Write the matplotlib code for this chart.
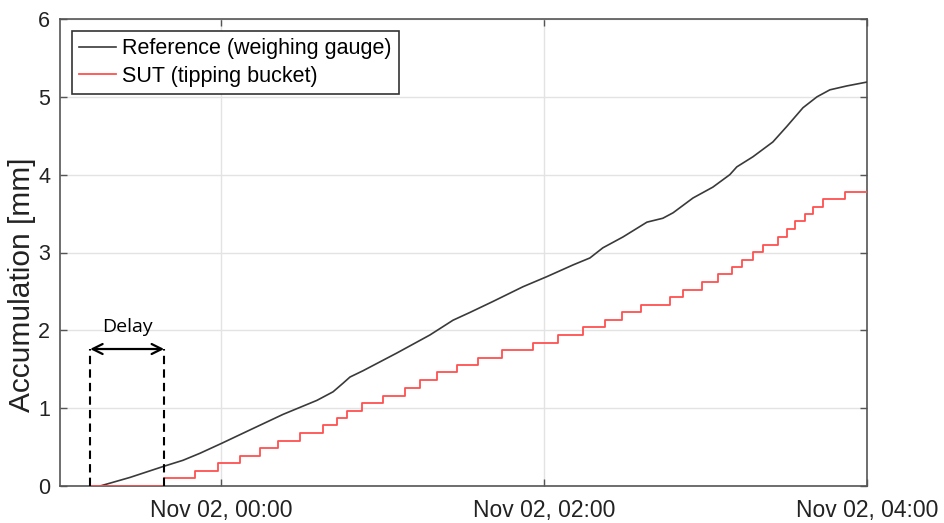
import matplotlib
matplotlib.use("Agg")
import matplotlib.pyplot as plt
import matplotlib.dates as mdates
from datetime import datetime, timedelta

# ---- data (minutes after Nov 01, 23:00) ----
ref_minutes = [14.9, 26.0, 38.3, 45.7, 52.0, 60.2, 70.6, 82.9, 95.5, 101.5, 105.2,
               107.8, 112.6, 125.3, 137.5, 146.1, 152.4, 160.9, 172.1, 181.0, 190.7,
               197.0, 201.8, 209.3, 218.2, 224.1, 227.9, 235.3, 242.7, 249.0, 251.6,
               257.6, 265.0, 270.2, 276.2, 281.4, 286.2, 292.5, 300.0]
ref_values = [0.0, 0.11, 0.25, 0.33, 0.42, 0.55, 0.72, 0.92, 1.10, 1.21, 1.32,
              1.40, 1.48, 1.71, 1.94, 2.13, 2.23, 2.37, 2.56, 2.69, 2.84,
              2.93, 3.06, 3.20, 3.39, 3.44, 3.51, 3.70, 3.84, 4.00, 4.10,
              4.23, 4.42, 4.62, 4.86, 5.00, 5.09, 5.14, 5.19]

sut_minutes = [11.2, 38.7, 50.2, 58.7, 66.9, 74.3, 81.0, 89.2, 97.8, 103.0, 106.7,
               112.3, 120.1, 128.2, 133.8, 140.1, 147.6, 155.4, 164.3,
               175.8, 185.1, 194.4, 202.6, 208.9, 215.9, 226.7,
               231.6, 238.6, 244.6, 249.8, 253.5, 257.6, 261.3, 266.9, 270.2,
               273.2, 276.9, 279.9, 283.6, 291.8, 300.0]
sut_values = [0.0, 0.10, 0.19, 0.29, 0.39, 0.49, 0.58, 0.68, 0.78, 0.87, 0.97,
              1.07, 1.16, 1.26, 1.36, 1.46, 1.55, 1.65, 1.75,
              1.84, 1.94, 2.04, 2.13, 2.23, 2.33, 2.43,
              2.52, 2.62, 2.72, 2.81, 2.91, 3.01, 3.10, 3.20, 3.30,
              3.40, 3.49, 3.59, 3.69, 3.78, 3.78]

delay_start_min = 11.2
delay_end_min = 38.7
delay_level = 1.76

x_ticks = ["2015-11-02 00:00", "2015-11-02 02:00", "2015-11-02 04:00"]
y_ticks = [0, 1, 2, 3, 4, 5, 6]
legend_labels = ["Reference (weighing gauge)", "SUT (tipping bucket)"]

t0 = datetime(2015, 11, 1, 23, 0)
def to_dt(m):
    return t0 + timedelta(minutes=m)

ref_t = [to_dt(m) for m in ref_minutes]
sut_t = [to_dt(m) for m in sut_minutes]

plt.rcParams['font.family'] = ['Liberation Sans', 'DejaVu Sans']

fig = plt.figure(figsize=(9.45, 5.23), dpi=100)
ax = fig.add_axes([60/945, 37/523, 807/945, 467/523])

ax.plot(ref_t, ref_values, color='#3a3a3a', lw=1.2, label=legend_labels[0], zorder=3)
ax.step(sut_t, sut_values, where='post', color='#ff5050', lw=1.3, label=legend_labels[1], zorder=3)

# delay annotation
d0, d1 = to_dt(delay_start_min), to_dt(delay_end_min)
for d in (d0, d1):
    ax.plot([d, d], [0, delay_level], color='black', lw=1.5, ls=(0, (4, 2.5)), zorder=4)
ax.annotate('', xy=(d1, delay_level), xytext=(d0, delay_level),
            arrowprops=dict(arrowstyle='<->', color='black', lw=1.6,
                            mutation_scale=18, shrinkA=0, shrinkB=0), zorder=5)
ax.text(to_dt((delay_start_min + delay_end_min) / 2), 2.04, 'Delay',
        ha='center', va='center', fontsize=14, family=['Open Sans', 'DejaVu Sans'])

ax.set_xlim(t0, to_dt(300))
ax.set_ylim(0, 6)
ax.set_xticks([datetime.strptime(s, "%Y-%m-%d %H:%M") for s in x_ticks])
ax.xaxis.set_major_formatter(mdates.DateFormatter('%b %d, %H:%M'))
ax.set_yticks(y_ticks)

ax.grid(True, color='#e3e3e3', lw=1.0, zorder=0)
ax.set_axisbelow(True)
for s in ax.spines.values():
    s.set_color('#555555')
    s.set_linewidth(1.2)
ax.tick_params(direction='in', length=5, width=1, colors='#555555',
               top=True, right=True, labelsize=15.5, labelcolor='#222222')
ax.tick_params(axis='x', pad=9, labelsize=16.5)
ax.tick_params(axis='y', pad=7)

ax.set_ylabel('Accumulation [mm]', fontsize=21.5, color='#222222')
ax.yaxis.set_label_coords(-0.03, 0.43)

leg = ax.legend(loc='upper left', fontsize=15.5, frameon=True, fancybox=False,
                framealpha=1, edgecolor='#333333', borderaxespad=0.55,
                handlelength=1.7, handletextpad=0.3, labelspacing=0.3,
                borderpad=0.35)
leg.get_frame().set_linewidth(1.2)

fig.savefig('out.png', dpi=100)
